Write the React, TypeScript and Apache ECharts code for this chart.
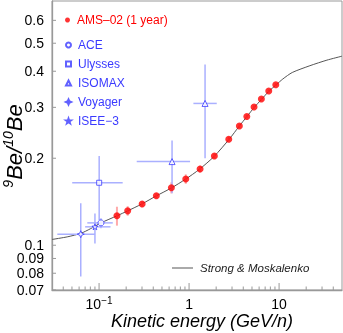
import React, { useEffect, useRef } from 'react';
import * as echarts from 'echarts';

const xMin = 0.03;
const xMax = 50;
const yMin = 0.07;
const yMax = 0.7;

// AMS-02 (1 year) projected points
const amsE = [0.158, 0.208, 0.301, 0.433, 0.636, 0.919, 1.325, 1.91, 2.76, 3.62, 4.38, 5.27, 6.36, 7.68, 9.19];
const amsR = [0.1264, 0.1315, 0.1388, 0.1483, 0.1581, 0.1695, 0.1836, 0.2037, 0.2328, 0.2584, 0.279, 0.3007, 0.3206, 0.3418, 0.3594];
const amsErr = [0.0095, 0.005, 0.003, 0.003, 0.007, 0.0064, 0.005, 0.004, 0.004, 0.004, 0.004, 0.004, 0.004, 0.004, 0.004];

// Strong & Moskalenko model
const modelE = [0.03, 0.045, 0.063, 0.08, 0.105, 0.158, 0.208, 0.3, 0.43, 0.64, 0.92, 1.3, 1.9, 2.8, 3.6, 4.4, 5.3, 6.4, 7.7, 9.2, 11, 14, 22, 34, 50];
const modelR = [0.1047, 0.107, 0.11, 0.114, 0.1195, 0.1264, 0.1315, 0.139, 0.148, 0.158, 0.1695, 0.183, 0.203, 0.233, 0.258, 0.279, 0.3, 0.32, 0.341, 0.358, 0.376, 0.396, 0.418, 0.437, 0.451];

// Other experiments: E, R, E low, E high, R low, R high
const aceE = [0.105];
const aceR = [0.1195];
const aceElo = [0.074];
const aceEhi = [0.142];
const aceRlo = [0.1146];
const aceRhi = [0.124];

const ulyE = [0.1003];
const ulyR = [0.1645];
const ulyElo = [0.0503];
const ulyEhi = [0.183];
const ulyRlo = [0.1221];
const ulyRhi = [0.2037];

const isoE = [0.647, 1.505];
const isoR = [0.1947, 0.3095];
const isoElo = [0.262, 1.117];
const isoEhi = [1.026, 2.03];
const isoRlo = [0.1512, 0.2];
const isoRhi = [0.2302, 0.4217];

const voyE = [0.0626];
const voyR = [0.1092];
const voyElo = [0.0344];
const voyEhi = [0.0903];
const voyRlo = [0.078];
const voyRhi = [0.1396];

const iseeE = [0.09];
const iseeR = [0.1158];
const iseeElo = [0.07];
const iseeEhi = [0.134];
const iseeRlo = [0.1014];
const iseeRhi = [0.1288];

// Axis ticks
const xMajorTicks = [0.1, 1, 10];
const xTickLabels = ['10^-1', '1', '10'];
const xMinorTicks = [0.04, 0.05, 0.06, 0.07, 0.08, 0.09, 0.2, 0.3, 0.4, 0.5, 0.6, 0.7, 0.8, 0.9, 2, 3, 4, 5, 6, 7, 8, 9, 20, 30, 40];
const yTicks = [0.07, 0.08, 0.09, 0.1, 0.2, 0.3, 0.4, 0.5, 0.6];
const yTickLabels = ['0.07', '0.08', '0.09', '0.1', '0.2', '0.3', '0.4', '0.5', '0.6'];

const FONT = 'Liberation Sans, Arial, Helvetica, sans-serif';
const FRAME = '#999999';
const BLUE = '#3a3aff';
const BLUE_ERR = '#aab0ff';

const fmtLabel = (s: string) => {
  if (s.includes('^')) {
    const [b, e] = s.split('^');
    return `{b|${b}}{s|${e.replace('-', '\u2212')}}`;
  }
  return `{b|${s}}`;
};

const rows = (E: number[], R: number[], Elo: number[], Ehi: number[], Rlo: number[], Rhi: number[]) =>
  E.map((e, i) => [e, R[i], Elo[i], Ehi[i], Rlo[i], Rhi[i]]);

const errSeries = (data: number[][], color: string, width: number) => ({
  type: 'custom',
  coordinateSystem: 'cartesian2d',
  silent: true,
  clip: false,
  z: 2,
  encode: { x: 0, y: 1 },
  data,
  renderItem: (params: any, api: any) => {
    const e = api.value(0), r = api.value(1);
    const a = api.coord([api.value(2), r]);
    const b = api.coord([api.value(3), r]);
    const c = api.coord([e, api.value(4)]);
    const d = api.coord([e, api.value(5)]);
    const st = { stroke: color, lineWidth: width };
    return {
      type: 'group',
      children: [
        { type: 'line', shape: { x1: a[0], y1: a[1], x2: b[0], y2: b[1] }, style: st },
        { type: 'line', shape: { x1: c[0], y1: c[1], x2: d[0], y2: d[1] }, style: st },
      ],
    };
  },
});

const starPath = 'path://M0,-10 L2.35,-3.24 L9.51,-3.09 L3.8,1.24 L5.88,8.09 L0,4 L-5.88,8.09 L-3.8,1.24 L-9.51,-3.09 L-2.35,-3.24 Z';
const crossStarPath = 'path://M0,-10 L3,-3 L10,0 L3,3 L0,10 L-3,3 L-10,0 L-3,-3 Z';

const hollow = (name: string, symbol: string, size: number, E: number[], R: number[]) => ({
  name,
  type: 'scatter',
  symbol,
  symbolSize: size,
  z: 4,
  itemStyle: { color: '#ffffff', borderColor: BLUE, borderWidth: 1 },
  data: E.map((e, i) => [e, R[i]]),
});

export default function App() {
  const ref = useRef<HTMLDivElement>(null);
  useEffect(() => {
    if (!ref.current) return;
    const chart = echarts.init(ref.current, undefined, { renderer: 'svg' });
    const amsRows = amsE.map((e, i) => [e, amsR[i], e, e, amsR[i] - amsErr[i], amsR[i] + amsErr[i]]);
    const option: any = {
      animation: false,
      textStyle: { fontFamily: FONT },
      grid: { left: 52, right: 1, top: 1, bottom: 43, show: true, borderColor: FRAME, borderWidth: 1, backgroundColor: 'transparent' },
      xAxis: {
        type: 'log', logBase: 10, min: xMin, max: xMax,
        axisLine: { show: true, lineStyle: { color: FRAME, width: 1.3 } },
        axisTick: { show: false }, axisLabel: { show: false }, splitLine: { show: false }, minorTick: { show: false },
      },
      yAxis: {
        type: 'log', logBase: 10, min: yMin, max: yMax,
        axisLine: { show: true, lineStyle: { color: FRAME, width: 1.3 } },
        axisTick: { show: false }, axisLabel: { show: false }, splitLine: { show: false }, minorTick: { show: false },
      },
      legend: [
        {
          data: [{ name: 'AMS\u201302 (1 year)', textStyle: { color: '#ff0000' } }],
          left: 60, top: 8, orient: 'vertical', itemWidth: 5, itemHeight: 5, selectedMode: false,
          textStyle: { fontSize: 12, fontFamily: FONT, lineHeight: 14, padding: [0, 0, 0, 2] },
        },
        {
          data: ['ACE', 'Ulysses', 'ISOMAX', 'Voyager', 'ISEE\u22123'],
          left: 60, top: 33, orient: 'vertical', itemWidth: 5, itemHeight: 5, itemGap: 5, selectedMode: false,
          textStyle: { fontSize: 12, fontFamily: FONT, color: BLUE, lineHeight: 14, padding: [0, 0, 0, 2] },
        },
        {
          data: [{ name: 'Strong & Moskalenko', icon: 'rect' }],
          left: 167, top: 257, itemWidth: 21, itemHeight: 1, selectedMode: false,
          textStyle: { fontSize: 11.5, fontFamily: FONT, fontStyle: 'italic', color: '#222', padding: [0, 0, 0, 2] },
        },
      ],
      graphic: [
        {
          type: 'text', x: 202, y: 312, z: 10,
          style: { text: 'Kinetic energy (GeV/n)', fontFamily: FONT, fontSize: 18, fontStyle: 'italic', fill: '#000', align: 'center', verticalAlign: 'top' },
        },
        {
          type: 'text', x: 25, y: 146, rotation: Math.PI / 2, z: 10,
          style: {
            text: '{s|9}{b|Be/}{s|10}{b|Be}',
            align: 'center', verticalAlign: 'bottom',
            rich: {
              b: { fontFamily: FONT, fontSize: 22, fontStyle: 'italic', fill: '#000', lineHeight: 24, verticalAlign: 'bottom' },
              s: { fontFamily: FONT, fontSize: 14, fontStyle: 'italic', fill: '#000', lineHeight: 14, verticalAlign: 'top' },
            },
          },
        },
      ],
      series: [
        {
          name: 'Strong & Moskalenko', type: 'line', symbol: 'none', showSymbol: false, smooth: 0.25, z: 1,
          lineStyle: { color: '#555', width: 1 }, itemStyle: { color: '#555' },
          data: modelE.map((e, i) => [e, modelR[i]]),
        },
        errSeries(amsRows, '#ffaaaa', 2),
        errSeries(rows(aceE, aceR, aceElo, aceEhi, aceRlo, aceRhi), BLUE_ERR, 1.5),
        errSeries(rows(ulyE, ulyR, ulyElo, ulyEhi, ulyRlo, ulyRhi), BLUE_ERR, 1.5),
        errSeries(rows(isoE, isoR, isoElo, isoEhi, isoRlo, isoRhi), BLUE_ERR, 1.5),
        errSeries(rows(voyE, voyR, voyElo, voyEhi, voyRlo, voyRhi), BLUE_ERR, 1.5),
        errSeries(rows(iseeE, iseeR, iseeElo, iseeEhi, iseeRlo, iseeRhi), BLUE_ERR, 1.5),
        {
          name: 'AMS\u201302 (1 year)', type: 'scatter', symbol: 'circle', symbolSize: 7, z: 5,
          itemStyle: { color: '#ff0000' },
          data: amsE.map((e, i) => [e, amsR[i]]),
        },
        hollow('ACE', 'circle', 6, aceE, aceR),
        hollow('Ulysses', 'rect', 5, ulyE, ulyR),
        hollow('ISOMAX', 'triangle', 6, isoE, isoR),
        hollow('Voyager', crossStarPath, 7, voyE, voyR),
        hollow('ISEE\u22123', starPath, 6, iseeE, iseeR),
        // x-axis ticks and labels
        {
          type: 'custom', coordinateSystem: 'cartesian2d', silent: true, clip: false, z: 6,
          encode: { x: 0, y: 1 },
          data: xMajorTicks.map((v) => [v, yMin]),
          renderItem: (params: any, api: any) => {
            const p = api.coord([api.value(0), yMin]);
            return {
              type: 'group',
              children: [
                { type: 'line', shape: { x1: p[0], y1: p[1], x2: p[0], y2: p[1] - 7 }, style: { stroke: FRAME, lineWidth: 1 } },
                {
                  type: 'text', x: p[0], y: p[1] + 5,
                  style: {
                    text: fmtLabel(xTickLabels[params.dataIndex]), align: 'center', verticalAlign: 'top',
                    rich: {
                      b: { fontFamily: FONT, fontSize: 14, fill: '#000', lineHeight: 16, verticalAlign: 'bottom' },
                      s: { fontFamily: FONT, fontSize: 10, fill: '#000', lineHeight: 10, verticalAlign: 'top' },
                    },
                  },
                },
              ],
            };
          },
        },
        {
          type: 'custom', coordinateSystem: 'cartesian2d', silent: true, clip: false, z: 6,
          encode: { x: 0, y: 1 },
          data: xMinorTicks.map((v) => [v, yMin]),
          renderItem: (params: any, api: any) => {
            const p = api.coord([api.value(0), yMin]);
            return { type: 'line', shape: { x1: p[0], y1: p[1], x2: p[0], y2: p[1] - 3.5 }, style: { stroke: FRAME, lineWidth: 1 } };
          },
        },
        // y-axis ticks and labels
        {
          type: 'custom', coordinateSystem: 'cartesian2d', silent: true, clip: false, z: 6,
          encode: { x: 0, y: 1 },
          data: yTicks.map((v) => [xMin, v]),
          renderItem: (params: any, api: any) => {
            const p = api.coord([xMin, api.value(1)]);
            return {
              type: 'group',
              children: [
                { type: 'line', shape: { x1: p[0], y1: p[1], x2: p[0] + 4, y2: p[1] }, style: { stroke: FRAME, lineWidth: 1 } },
                {
                  type: 'text', x: p[0] - 8, y: p[1],
                  style: { text: yTickLabels[params.dataIndex], fontFamily: FONT, fontSize: 14, lineHeight: 12, fill: '#000', align: 'right', verticalAlign: 'middle' },
                },
              ],
            };
          },
        },
      ],
    };
    chart.setOption(option);
    return () => chart.dispose();
  }, []);
  return <div ref={ref} style={{ position: 'fixed', left: 0, top: 0, width: 343, height: 333 }} />;
}
